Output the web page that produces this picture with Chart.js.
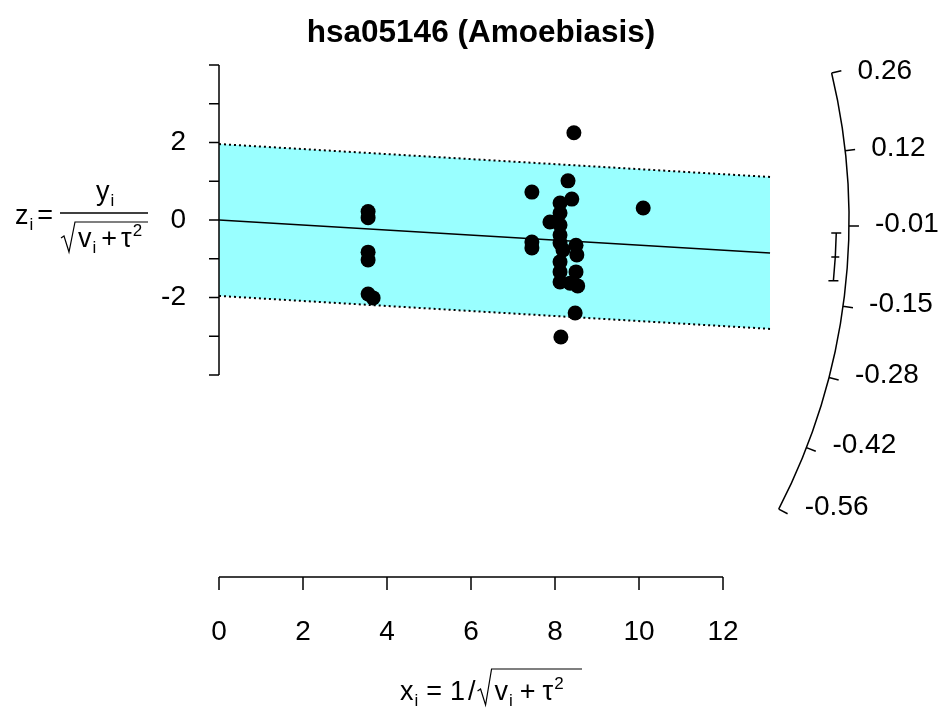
<!DOCTYPE html>
<html>
<head>
<meta charset="utf-8">
<script src="https://cdn.jsdelivr.net/npm/chart.js@4/dist/chart.umd.min.js"></script>
<style>
html, body { margin: 0; padding: 0; background: #fff; }
#wrap { width: 942px; height: 713px; }
</style>
</head>
<body>
<div id="wrap"><canvas id="radial" width="942" height="713"></canvas></div>
<script>
// studies: x = 1/sqrt(vi + tau^2), z = yi/sqrt(vi + tau^2)
const studyX = [3.55, 3.55, 3.55, 3.55, 3.55, 3.67,
                7.45, 7.45, 7.45, 7.88,
                8.12, 8.12, 8.12, 8.12, 8.12, 8.12, 8.12, 8.12,
                8.19, 8.31, 8.40, 8.36,
                8.50, 8.52, 8.50, 8.54, 8.48, 8.45, 8.14, 10.10];
const studyZ = [0.22, 0.06, -0.83, -1.03, -1.91, -2.01,
                0.72, -0.57, -0.72, -0.05,
                0.44, 0.18, -0.13, -0.39, -0.59, -1.08, -1.34, -1.60,
                -0.77, 1.01, 0.54, -1.63,
                -0.65, -0.90, -1.34, -1.70, -2.40, 2.25, -3.02, 0.31];

// fitted line and +-1.96 band, read at the two ends of the band
const bandX = [0, 13.12];
const fitY = [0, -0.85];
const bandUpper = [1.96, 1.11];
const bandLower = [-1.96, -2.81];

// summary estimate with CI, shown on the arc
const estimate = -0.065;
const ciLower = -0.107;
const ciUpper = -0.023;

// axes
const xTicks = [0, 2, 4, 6, 8, 10, 12];
const yTicks = [-4, -3, -2, -1, 0, 1, 2, 3, 4];
const yLabels = [-2, 0, 2];
const arcTicks = [0.26, 0.12, -0.01, -0.15, -0.28, -0.42, -0.56];
const arcRadius = 15;     // in x units
const ciRadius = 14.7;

const FONT = '"Liberation Sans", Arial, Helvetica, sans-serif';

// draws a row of text pieces: [text, size, dy, gapAfter]
function run(ctx, x, y, items) {
    for (const [t, size, dy, gap] of items) {
        ctx.font = size + 'px ' + FONT;
        ctx.fillText(t, x, y + dy);
        x += ctx.measureText(t).width + (gap || 0);
    }
    return x;
}

function radical(ctx, x, top, bottom, right) {
    ctx.beginPath();
    ctx.moveTo(x, bottom - 14);
    ctx.lineTo(x + 3, bottom - 16);
    ctx.lineTo(x + 8, bottom);
    ctx.lineTo(x + 14, top);
    ctx.lineTo(right, top);
    ctx.stroke();
}

const radialPlugin = {
    id: 'radialExtras',
    afterDraw(chart) {
        const ctx = chart.ctx;
        const xs = chart.scales.x, ys = chart.scales.y;
        const ox = xs.getPixelForValue(0), oy = ys.getPixelForValue(0);
        const pxX = xs.getPixelForValue(1) - ox;
        const pxY = oy - ys.getPixelForValue(1);
        const ang = v => Math.atan(v * pxY / pxX);

        ctx.save();
        ctx.strokeStyle = '#000';
        ctx.fillStyle = '#000';
        ctx.lineWidth = 1.5;

        // title
        ctx.font = 'bold 31.5px ' + FONT;
        ctx.textAlign = 'center';
        ctx.textBaseline = 'middle';
        ctx.fillText('hsa05146 (Amoebiasis)', 481, 33);

        // y axis
        const yTop = ys.getPixelForValue(yTicks[yTicks.length - 1]);
        const yBot = ys.getPixelForValue(yTicks[0]);
        ctx.beginPath();
        ctx.moveTo(ox, yTop);
        ctx.lineTo(ox, yBot);
        yTicks.forEach(t => {
            const p = ys.getPixelForValue(t);
            ctx.moveTo(ox, p);
            ctx.lineTo(ox - 10, p);
        });
        ctx.stroke();
        ctx.font = '28px ' + FONT;
        ctx.textAlign = 'right';
        yLabels.forEach(t => ctx.fillText(String(t), ox - 33, ys.getPixelForValue(t)));

        // x axis (detached, below the plot)
        const axY = 577;
        ctx.beginPath();
        ctx.moveTo(xs.getPixelForValue(xTicks[0]), axY);
        ctx.lineTo(xs.getPixelForValue(xTicks[xTicks.length - 1]), axY);
        xTicks.forEach(t => {
            const p = xs.getPixelForValue(t);
            ctx.moveTo(p, axY);
            ctx.lineTo(p, axY + 13);
        });
        ctx.stroke();
        ctx.textAlign = 'center';
        xTicks.forEach(t => ctx.fillText(String(t), xs.getPixelForValue(t), 632));

        // arc
        const R = xs.getPixelForValue(arcRadius) - ox;
        const a0 = ang(arcTicks[0]), a1 = ang(arcTicks[arcTicks.length - 1]);
        ctx.beginPath();
        ctx.arc(ox, oy, R, -a0, -a1, false);
        arcTicks.forEach(v => {
            const a = ang(v);
            ctx.moveTo(ox + R * Math.cos(a), oy - R * Math.sin(a));
            ctx.lineTo(ox + (R + 10) * Math.cos(a), oy - (R + 10) * Math.sin(a));
        });
        ctx.stroke();
        ctx.textAlign = 'left';
        arcTicks.forEach(v => {
            const a = ang(v);
            ctx.fillText(v.toFixed(2), ox + R * Math.cos(a) + 26, oy - R * Math.sin(a) - 2);
        });

        // CI of the summary estimate
        const r = xs.getPixelForValue(ciRadius) - ox;
        const pt = v => [ox + r * Math.cos(ang(v)), oy - r * Math.sin(ang(v))];
        const pU = pt(ciUpper), pE = pt(estimate), pL = pt(ciLower);
        ctx.beginPath();
        ctx.moveTo(pU[0], pU[1]);
        ctx.lineTo(pE[0], pE[1]);
        ctx.lineTo(pL[0], pL[1]);
        ctx.moveTo(pU[0] - 5, pU[1]); ctx.lineTo(pU[0] + 5, pU[1]);
        ctx.moveTo(pL[0] - 5, pL[1]); ctx.lineTo(pL[0] + 5, pL[1]);
        ctx.moveTo(pE[0] - 4, pE[1]); ctx.lineTo(pE[0] + 4, pE[1]);
        ctx.stroke();

        // y axis label: z_i = y_i / sqrt(v_i + tau^2)
        ctx.textBaseline = 'alphabetic';
        ctx.textAlign = 'left';
        run(ctx, 15, 224, [['z', 27, 0, 1], ['i', 17, 6, 4], ['=', 27, 0, 0]]);
        ctx.beginPath();
        ctx.moveTo(60, 213);
        ctx.lineTo(148, 213);
        ctx.stroke();
        run(ctx, 96, 200, [['y', 27, 0, 1], ['i', 17, 6, 0]]);
        ctx.lineWidth = 1.2;
        radical(ctx, 61, 222, 252, 148);
        ctx.lineWidth = 1.5;
        run(ctx, 78, 247, [['v', 27, 0, 1], ['i', 17, 6, 5], ['+', 27, 0, 4], ['\u03c4', 27, 0, 1], ['2', 17, -11, 0]]);

        // x axis label: x_i = 1 / sqrt(v_i + tau^2)
        let x = run(ctx, 400, 700, [['x', 27, 0, 1], ['i', 17, 6, 8], ['=', 27, 0, 8], ['1', 27, 0, 3], ['/', 27, 0, 2]]);
        ctx.lineWidth = 1.2;
        radical(ctx, x, 669, 705, 582);
        ctx.lineWidth = 1.5;
        run(ctx, x + 17, 700, [['v', 27, 0, 1], ['i', 17, 6, 7], ['+', 27, 0, 7], ['\u03c4', 27, 0, 1], ['2', 17, -11, 0]]);

        ctx.restore();
    }
};

const points = studyX.map((x, i) => ({ x: x, y: studyZ[i] }));
const line = ys => bandX.map((x, i) => ({ x: x, y: ys[i] }));

new Chart(document.getElementById('radial').getContext('2d'), {
    type: 'scatter',
    data: {
        datasets: [
            {
                type: 'line', data: line(bandUpper), order: 3,
                borderColor: '#000', borderWidth: 2, borderDash: [2, 3],
                pointRadius: 0, fill: '+1', backgroundColor: '#99ffff'
            },
            {
                type: 'line', data: line(bandLower), order: 2,
                borderColor: '#000', borderWidth: 2, borderDash: [2, 3],
                pointRadius: 0, fill: false
            },
            {
                type: 'line', data: line(fitY), order: 1,
                borderColor: '#000', borderWidth: 1.5,
                pointRadius: 0, fill: false
            },
            {
                data: points, order: 0,
                pointRadius: 7.5, pointBackgroundColor: '#000',
                pointBorderWidth: 0, backgroundColor: '#000'
            }
        ]
    },
    options: {
        responsive: false,
        animation: false,
        layout: { padding: { left: 219, top: 65, right: 93, bottom: 338 } },
        scales: {
            x: { type: 'linear', min: 0, max: 15, display: false },
            y: { type: 'linear', min: -4, max: 4, display: false }
        },
        plugins: {
            legend: { display: false },
            tooltip: { enabled: false }
        }
    },
    plugins: [radialPlugin]
});
</script>
</body>
</html>
